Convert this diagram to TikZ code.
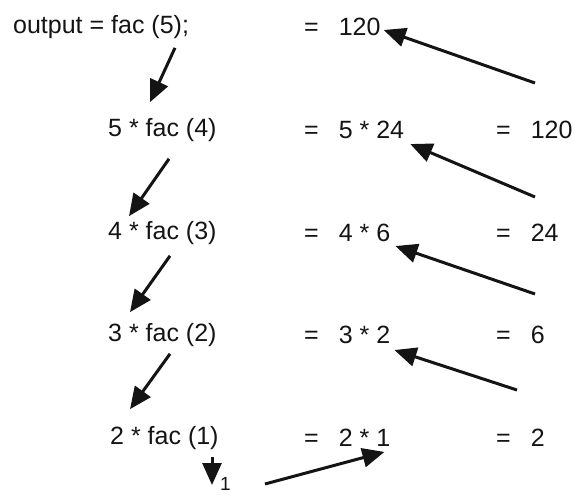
\documentclass[tikz,border=0pt]{standalone}
\usepackage{fontspec}
\setmainfont{Liberation Sans}
\usepackage{tikz}
\usetikzlibrary{arrows.meta,positioning,calc}
\colorlet{tinta}{black!92}
\tikzset{
  txt/.style={anchor=west,inner sep=0pt,text=tinta,font=\fontsize{25}{29}\selectfont},
  paso/.style={-{Triangle[length=22pt,width=19pt]},line width=3pt,tinta},
}
\begin{document}
\begin{tikzpicture}[x=1pt,y=-1pt,
          v/.style={txt}]
        \useasboundingbox (0,0) rectangle (574,495);
        \node[v] (out) at (13,27) {output = fac (5);};
        \node[v] (f4) at (108,130) {5 * fac (4)};
        \node[v] (f3) at (108,233) {4 * fac (3)};
        \node[v] (f2) at (108,335) {3 * fac (2)};
        \node[v] (f1) at (110,438) {2 * fac (1)};
        \node[v] (m1) at (304,27) {=\hspace{20pt}120};
        \node[v] (m2) at (304,130) {=\hspace{20pt}5 * 24};
        \node[v] (m3) at (304,233) {=\hspace{20pt}4 * 6};
        \node[v] (m4) at (304,335) {=\hspace{20pt}3 * 2};
        \node[v] (m5) at (304,438) {=\hspace{20pt}2 * 1};
        \node[v] (r2) at (496,130) {=\hspace{20pt}120};
        \node[v] (r3) at (496,233) {=\hspace{20pt}24};
        \node[v] (r4) at (496,335) {=\hspace{20pt}6};
        \node[v] (r5) at (496,438) {=\hspace{20pt}2};
        \node[v,font=\fontsize{19}{22}\selectfont] (one) at (220,484) {1};
        \coordinate (s1) at (535,83);
        \coordinate (s2) at (535,197);
        \coordinate (s3) at (535,294);
        \coordinate (s4) at (517,390);
        \coordinate (s5) at (265,484);
        \draw[paso] ($(out.south west)+(162,9)$) -- ($(f4.north west)+(42,-16)$);
        \draw[paso] ($(f4.south west)+(61,17)$) -- ($(f3.north west)+(21,-5)$);
        \draw[paso] ($(f3.south west)+(62,11)$) -- ($(f2.north west)+(22,-11)$);
        \draw[paso] ($(f2.south west)+(62,7)$) -- ($(f1.north west)+(20,-17)$);
        \draw[paso] ($(f1.south west)+(102,7)$) -- ($(one.west)+(-8,1)$);
        \draw[paso] (s5) -- ($(m5.south east)+(-6,5)$);
        \draw[paso] (s4) -- ($(m4.south east)+(4,6)$);
        \draw[paso] (s3) -- ($(m3.south east)+(5,4)$);
        \draw[paso] (s2) -- ($(m2.south east)+(6,5)$);
        \draw[paso] (s1) -- ($(m1.east)+(3,3)$);
      \end{tikzpicture}
\end{document}
